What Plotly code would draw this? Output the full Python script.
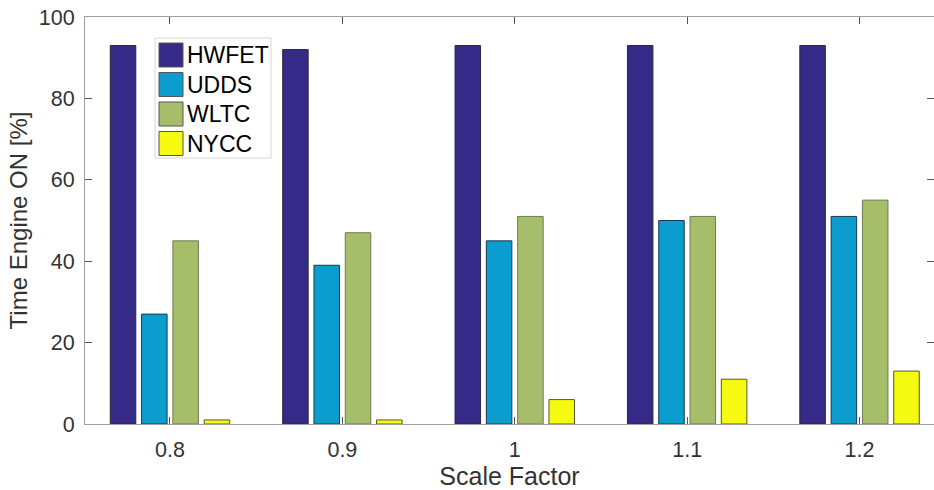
import plotly.graph_objects as go

# Data
scale_factors = [0.8, 0.9, 1.0, 1.1, 1.2]
tick_labels = ["0.8", "0.9", "1", "1.1", "1.2"]
cycles = ["HWFET", "UDDS", "WLTC", "NYCC"]
hwfet = [93, 92, 93, 93, 93]
udds = [27, 39, 45, 50, 51]
wltc = [45, 47, 51, 51, 55]
nycc = [1, 1, 6, 11, 13]
colors = ["#352A87", "#0A9DCE", "#A6BE6A", "#F6F910"]
edge_colors = ["#2a2a3a", "#1a3a50", "#6f7a55", "#5a5a20"]

series = [hwfet, udds, wltc, nycc]

W, H = 934, 490
ML, MR, MT, MB = 85, 0, 17, 66
PW, PH = W - ML - MR, H - MT - MB

FONT = "Liberation Sans, Arial, sans-serif"

fig = go.Figure()
for name, vals, col, ec in zip(cycles, series, colors, edge_colors):
    fig.add_trace(go.Bar(
        x=scale_factors, y=vals, name=name,
        marker=dict(color=col, line=dict(color=ec, width=1)),
        showlegend=False,
    ))


def px_x(px):
    return (px - ML) / PW


def px_y(py):
    return (H - MB - py) / PH


# Legend box drawn as shapes + text
shapes = [dict(type="rect", xref="paper", yref="paper",
               x0=px_x(155), x1=px_x(271), y0=px_y(158), y1=px_y(38),
               line=dict(color="#d6d6d6", width=1), fillcolor="white", layer="above")]
annotations = []
for i, (name, col) in enumerate(zip(cycles, colors)):
    cy = 55 + 29.5 * i
    shapes.append(dict(type="rect", xref="paper", yref="paper",
                       x0=px_x(159), x1=px_x(183), y0=px_y(cy + 12), y1=px_y(cy - 12),
                       line=dict(color="#555555", width=1), fillcolor=col, layer="above"))
    annotations.append(dict(xref="paper", yref="paper", x=px_x(185), y=px_y(cy),
                            text=name, showarrow=False, xanchor="left", yanchor="middle",
                            font=dict(family=FONT, size=23, color="#000000")))

fig.update_layout(
    width=W, height=H,
    margin=dict(l=ML, r=MR, t=MT, b=MB, pad=0),
    paper_bgcolor="white", plot_bgcolor="white",
    barmode="group", bargap=0.2736, bargroupgap=0.185,
    font=dict(family=FONT, size=21.5, color="#333333"),
    shapes=shapes, annotations=annotations,
)
fig.update_xaxes(
    range=[0.7507, 1.2432], tickvals=scale_factors, ticktext=tick_labels,
    ticks="inside", ticklen=7, tickcolor="#555555", tickwidth=1,
    showline=True, linecolor="#a0a0a0", linewidth=1, mirror="ticks",
    showgrid=False, zeroline=False, ticklabelstandoff=6,
    title=dict(text="Scale Factor", font=dict(size=25, color="#333333"), standoff=7),
)
fig.update_yaxes(
    range=[0, 100], tickvals=[0, 20, 40, 60, 80, 100],
    ticks="inside", ticklen=7, tickcolor="#555555", tickwidth=1,
    showline=True, linecolor="#a0a0a0", linewidth=1, mirror="ticks",
    showgrid=False, zeroline=False, ticklabelstandoff=5,
    title=dict(text="Time Engine ON [%]", font=dict(size=24, color="#333333"), standoff=4),
)

fig.write_html("out.html")
